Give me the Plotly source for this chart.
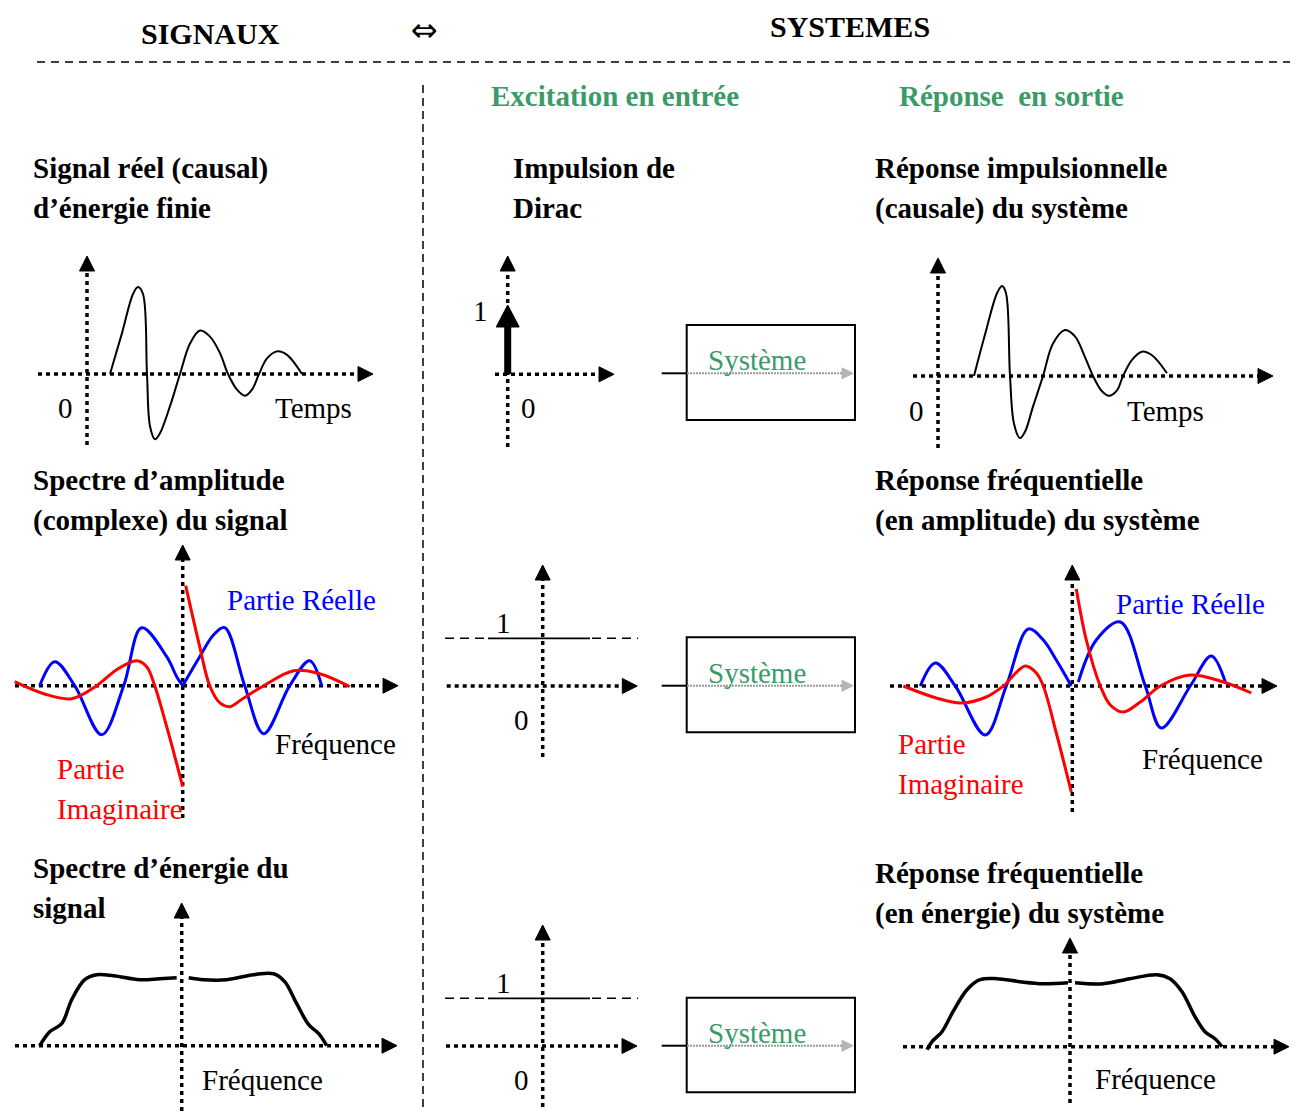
import plotly.graph_objects as go

W, H = 1300, 1111          # browser window
PAD = 8                    # default page margin around the plot div
SERIF = "Liberation Serif, Times New Roman, serif"
GREEN = "#3A9B68"
BLUE = "#0000FF"
RED = "#FF0000"

# ---------------- data ----------------
# real causal signal of finite energy (time, normalised amplitude)
sig_t = [2.3, 3.5, 4.6, 5.1, 5.6, 6.0, 6.3, 6.8, 7.3, 8.3, 9.3, 10.3, 11.3, 12.3, 13.3,
         14.1, 15.0, 15.8, 16.5, 17.2, 18.0, 19.0, 20.0, 21.5]
sig_v = [0.0, 0.47, 0.92, 1.0, 0.92, 0.0, -0.60, -0.75, -0.68, -0.37, 0.0, 0.35, 0.50, 0.43, 0.24,
         0.0, -0.18, -0.25, -0.18, 0.0, 0.18, 0.26, 0.22, 0.0]

# impulse response of the system
resp_t = [3.6, 4.7, 5.9, 6.4, 6.8, 7.2, 7.6, 8.2, 8.7, 9.5, 10.5, 11.5, 12.7, 13.7, 14.7,
          15.5, 16.4, 17.1, 17.9, 18.5, 19.4, 20.4, 21.4, 22.9]
resp_v = [0.0, 0.46, 0.92, 1.0, 0.92, 0.0, -0.53, -0.69, -0.62, -0.34, 0.0, 0.36, 0.51, 0.44, 0.21,
          0.0, -0.17, -0.22, -0.16, 0.0, 0.18, 0.27, 0.23, 0.03]

# amplitude spectrum of the signal (None = break at f = 0)
spec_re_f = [-14.3, -12.8, -10.8, -8.1, -5.9, -4.1, -1.6, -0.6, 0.0, None,
             0.0, 1.7, 3.1, 4.2, 6.2, 8.1, 10.7, 12.7, 13.9]
spec_re_v = [0.0, 0.24, 0.0, -0.49, 0.0, 0.58, 0.29, 0.09, 0.0, None,
             0.0, 0.29, 0.51, 0.58, 0.0, -0.48, 0.0, 0.25, 0.0]
spec_im_f = [-16.8, -13.9, -11.1, -8.6, -6.6, -4.6, -3.6, -2.8, -1.6, -0.6, 0.0, None,
             0.3, 1.7, 2.7, 3.7, 4.7, 6.0, 8.1, 11.1, 13.7, 16.7]
spec_im_v = [0.04, -0.08, -0.13, 0.0, 0.16, 0.25, 0.19, 0.0, -0.41, -0.78, -1.01, None,
             1.0, 0.39, 0.0, -0.17, -0.21, -0.13, 0.0, 0.15, 0.12, -0.01]

# frequency response (amplitude) of the system
h_re_f = [-15.2, -13.7, -11.7, -8.7, -6.6, -4.4, -2.9, -1.6, -0.1, None,
          0.6, 2.4, 4.8, 7.3, 8.9, 11.8, 13.9, 15.3]
h_re_v = [0.0, 0.23, 0.0, -0.49, 0.0, 0.57, 0.46, 0.26, 0.0, None,
          0.04, 0.46, 0.64, 0.0, -0.42, 0.0, 0.30, 0.04]
h_im_f = [-16.9, -13.6, -11.1, -8.6, -6.9, -4.7, -3.6, -2.9, -1.6, -0.1, None,
          0.4, 1.4, 2.8, 3.8, 5.1, 6.8, 8.8, 11.8, 15.1, 17.9]
h_im_v = [0.0, -0.12, -0.17, -0.11, 0.0, 0.20, 0.13, 0.0, -0.47, -1.06, None,
          0.97, 0.46, 0.0, -0.19, -0.26, -0.16, 0.0, 0.11, 0.04, -0.07]

# energy spectrum of the signal
esd_f = [-14.2, -13.2, -12.0, -11.0, -9.7, -8.5, -6.8, -4.2, -2.2, -0.5, None,
         0.7, 2.2, 4.5, 7.2, 9.2, 10.3, 11.5, 12.7, 13.7, 14.5]
esd_v = [0.0, 0.14, 0.22, 0.46, 0.66, 0.71, 0.70, 0.66, 0.67, 0.68, None,
         0.68, 0.66, 0.66, 0.71, 0.72, 0.64, 0.42, 0.21, 0.12, 0.0]

# frequency response (energy) of the system
he_f = [-14.3, -13.8, -12.8, -11.7, -10.3, -9.0, -7.3, -5.0, -2.7, -0.2, None,
        0.5, 3.3, 6.0, 8.7, 10.0, 11.2, 12.5, 13.5, 14.5, 15.2]
he_v = [-0.03, 0.05, 0.15, 0.35, 0.57, 0.67, 0.68, 0.65, 0.63, 0.64, None,
        0.64, 0.63, 0.68, 0.72, 0.68, 0.55, 0.30, 0.15, 0.08, 0.0]

# ---------------- layout helpers ----------------
# panel: origin in page pixels, px per x-unit, px per y-unit
PANELS = {
    "sig":   (87.0, 374.0, 10.0, 87.0),
    "resp":  (938.0, 376.0, 10.0, 90.0),
    "spec":  (182.7, 685.7, 10.0, 100.0),
    "hfreq": (1072.3, 686.0, 10.0, 100.0),
    "esd":   (181.7, 1045.7, 10.0, 100.0),
    "hener": (1070.0, 1046.7, 10.0, 100.0),
}

FW, FH = W - PAD, H - PAD
fig = go.Figure()
layout = dict(
    width=FW, height=FH, autosize=False,
    margin=dict(l=0, r=0, t=0, b=0, pad=0),
    paper_bgcolor="white", plot_bgcolor="rgba(0,0,0,0)",
    showlegend=False,
    xaxis=dict(range=[PAD, W], visible=False, fixedrange=True),
    yaxis=dict(range=[H, PAD], visible=False, fixedrange=True),
)
axis_ids = {}
for i, (name, (ox, oy, sx, sy)) in enumerate(PANELS.items(), start=2):
    layout[f"xaxis{i}"] = dict(overlaying="x", anchor=f"y{i}", visible=False, fixedrange=True,
                               range=[(PAD - ox) / sx, (W - ox) / sx])
    layout[f"yaxis{i}"] = dict(overlaying="y", anchor=f"x{i}", visible=False, fixedrange=True,
                               range=[(oy - H) / sy, (oy - PAD) / sy])
    axis_ids[name] = (f"x{i}", f"y{i}")


def curve(panel, xs, ys, color, width):
    xa, ya = axis_ids[panel]
    fig.add_trace(go.Scatter(x=xs, y=ys, mode="lines", xaxis=xa, yaxis=ya,
                             line=dict(color=color, width=width, shape="spline", smoothing=1.0),
                             connectgaps=False, hoverinfo="skip"))


curve("sig", sig_t, sig_v, "black", 2)
curve("resp", resp_t, resp_v, "black", 2)
curve("spec", spec_re_f, spec_re_v, BLUE, 3)
curve("spec", spec_im_f, spec_im_v, RED, 3)
curve("hfreq", h_re_f, h_re_v, BLUE, 3)
curve("hfreq", h_im_f, h_im_v, RED, 3)
curve("esd", esd_f, esd_v, "black", 3.5)
curve("hener", he_f, he_v, "black", 3.5)

shapes = []
DOT = dict(color="black", width=3.5, dash="4px,4px")


def head(tx, ty, direction, length=15, half=7.5, color="black"):
    if direction == "right":
        b = tx - length
        p = f"M{tx},{ty} L{b},{ty - half} L{b},{ty + half} Z"
    else:
        b = ty + length
        p = f"M{tx},{ty} L{tx - half},{b} L{tx + half},{b} Z"
    shapes.append(dict(type="path", path=p, xref="x", yref="y", fillcolor=color,
                       line=dict(color=color, width=1)))


def dotted_axes(ox, oy, x0, xtip, ybot, ytip):
    shapes.append(dict(type="line", xref="x", yref="y", x0=x0, x1=xtip - 15, y0=oy, y1=oy,
                       line=DOT, layer="below"))
    shapes.append(dict(type="line", xref="x", yref="y", x0=ox, x1=ox, y0=ybot, y1=ytip + 15,
                       line=DOT, layer="below"))
    head(xtip, oy, "right")
    head(ox, ytip, "up")


dotted_axes(87, 374, 38, 373, 445, 256)          # signal
dotted_axes(938, 376, 913, 1273, 448, 258)       # impulse response
dotted_axes(182.7, 685.7, 15, 398, 818, 545)     # spectrum
dotted_axes(1072.3, 686, 890, 1277, 812, 565)    # freq response
dotted_axes(181.7, 1045.7, 15, 397, 1111, 903)   # energy spectrum
dotted_axes(1070, 1046.7, 903, 1289, 1103, 938)  # energy response
dotted_axes(507.7, 374.3, 495, 614, 447, 256)    # dirac
dotted_axes(542.7, 686, 446.7, 637.3, 757, 565)  # unit spectrum
dotted_axes(542.7, 1046, 446, 637, 1107, 925)    # unit energy

# Dirac impulse
shapes.append(dict(type="line", xref="x", yref="y", x0=507.7, x1=507.7, y0=374, y1=326,
                   line=dict(color="black", width=7)))
head(507.7, 305, "up", length=22, half=11.5)

# level "1" lines
for ly in (638.3, 998.3):
    shapes.append(dict(type="line", xref="x", yref="y", x0=445, x1=488, y0=ly, y1=ly,
                       line=dict(color="black", width=1.5, dash="9px,6px")))
    shapes.append(dict(type="line", xref="x", yref="y", x0=488, x1=590, y0=ly, y1=ly,
                       line=dict(color="black", width=1.8)))
    shapes.append(dict(type="line", xref="x", yref="y", x0=592, x1=638, y0=ly, y1=ly,
                       line=dict(color="black", width=1.5, dash="9px,6px")))

# system boxes
for (by0, by1, ly) in [(325, 420, 373.3), (637.3, 732.3, 685.7), (997.7, 1092.3, 1045.7)]:
    shapes.append(dict(type="rect", xref="x", yref="y", x0=686.7, x1=855, y0=by0, y1=by1,
                       line=dict(color="black", width=2)))
    shapes.append(dict(type="line", xref="x", yref="y", x0=661.7, x1=686.7, y0=ly, y1=ly,
                       line=dict(color="black", width=2)))
    shapes.append(dict(type="line", xref="x", yref="y", x0=687, x1=843, y0=ly, y1=ly,
                       line=dict(color="#9a9a9a", width=2, dash="2px,1px")))
    head(853, ly, "right", length=11, half=5.5, color="#b5b5b5")

# separators
shapes.append(dict(type="line", xref="x", yref="y", x0=37, x1=1290, y0=62, y1=62,
                   line=dict(color="black", width=1.5, dash="8px,6px")))
shapes.append(dict(type="line", xref="x", yref="y", x0=423, x1=423, y0=85, y1=1111,
                   line=dict(color="black", width=1.5, dash="8px,5px")))

annotations = []


def txt(x, y, s, size=29, color="black", bold=False, anchor="center", family=SERIF):
    if bold:
        s = f"<b>{s}</b>"
    if anchor == "left":
        x -= 2   # compensate annotation padding
    annotations.append(dict(x=x, y=y, xref="x", yref="y", text=s, showarrow=False,
                            xanchor=anchor, yanchor="middle",
                            font=dict(family=family, size=size, color=color)))


# headers
txt(210, 33, "SIGNAUX", bold=True, size=30)
txt(424, 30, "⇔", size=32, family="DejaVu Sans")
txt(850, 26, "SYSTEMES", bold=True, size=30)
txt(615, 96, "Excitation en entrée", bold=True, color=GREEN)
txt(1011, 96, "Réponse\u00a0 en sortie", bold=True, color=GREEN)

# section titles
titles = [
    (33, 168, "Signal réel (causal)"), (33, 208, "d’énergie finie"),
    (513, 168, "Impulsion de"), (513, 208, "Dirac"),
    (875, 168, "Réponse impulsionnelle"), (875, 208, "(causale) du système"),
    (33, 480, "Spectre d’amplitude"), (33, 520, "(complexe) du signal"),
    (875, 480, "Réponse fréquentielle"), (875, 520, "(en amplitude) du système"),
    (33, 868, "Spectre d’énergie du"), (33, 908, "signal"),
    (875, 873, "Réponse fréquentielle"), (875, 913, "(en énergie) du système"),
]
for x, y, s in titles:
    txt(x, y, s, bold=True, anchor="left")

# axis labels
for x, y, s in [(65, 408, "0"), (916, 411, "0"), (528, 408, "0"), (521, 720, "0"), (521, 1080, "0"),
                (480, 311, "1"), (503, 623, "1"), (503, 983, "1")]:
    txt(x, y, s)
txt(313, 408, "Temps")
txt(1165, 411, "Temps")
txt(335, 744, "Fréquence")
txt(1202, 759, "Fréquence")
txt(262, 1080, "Fréquence")
txt(1155, 1079, "Fréquence")
txt(301, 600, "Partie Réelle", color=BLUE)
txt(1190, 604, "Partie Réelle", color=BLUE)
txt(57, 769, "Partie", color=RED, anchor="left")
txt(57, 809, "Imaginaire", color=RED, anchor="left")
txt(898, 744, "Partie", color=RED, anchor="left")
txt(898, 784, "Imaginaire", color=RED, anchor="left")
for y in (360, 673, 1033):
    txt(757, y, "Système", color=GREEN)

layout["shapes"] = shapes
layout["annotations"] = annotations
fig.update_layout(**layout)
fig.write_html("out.html")
